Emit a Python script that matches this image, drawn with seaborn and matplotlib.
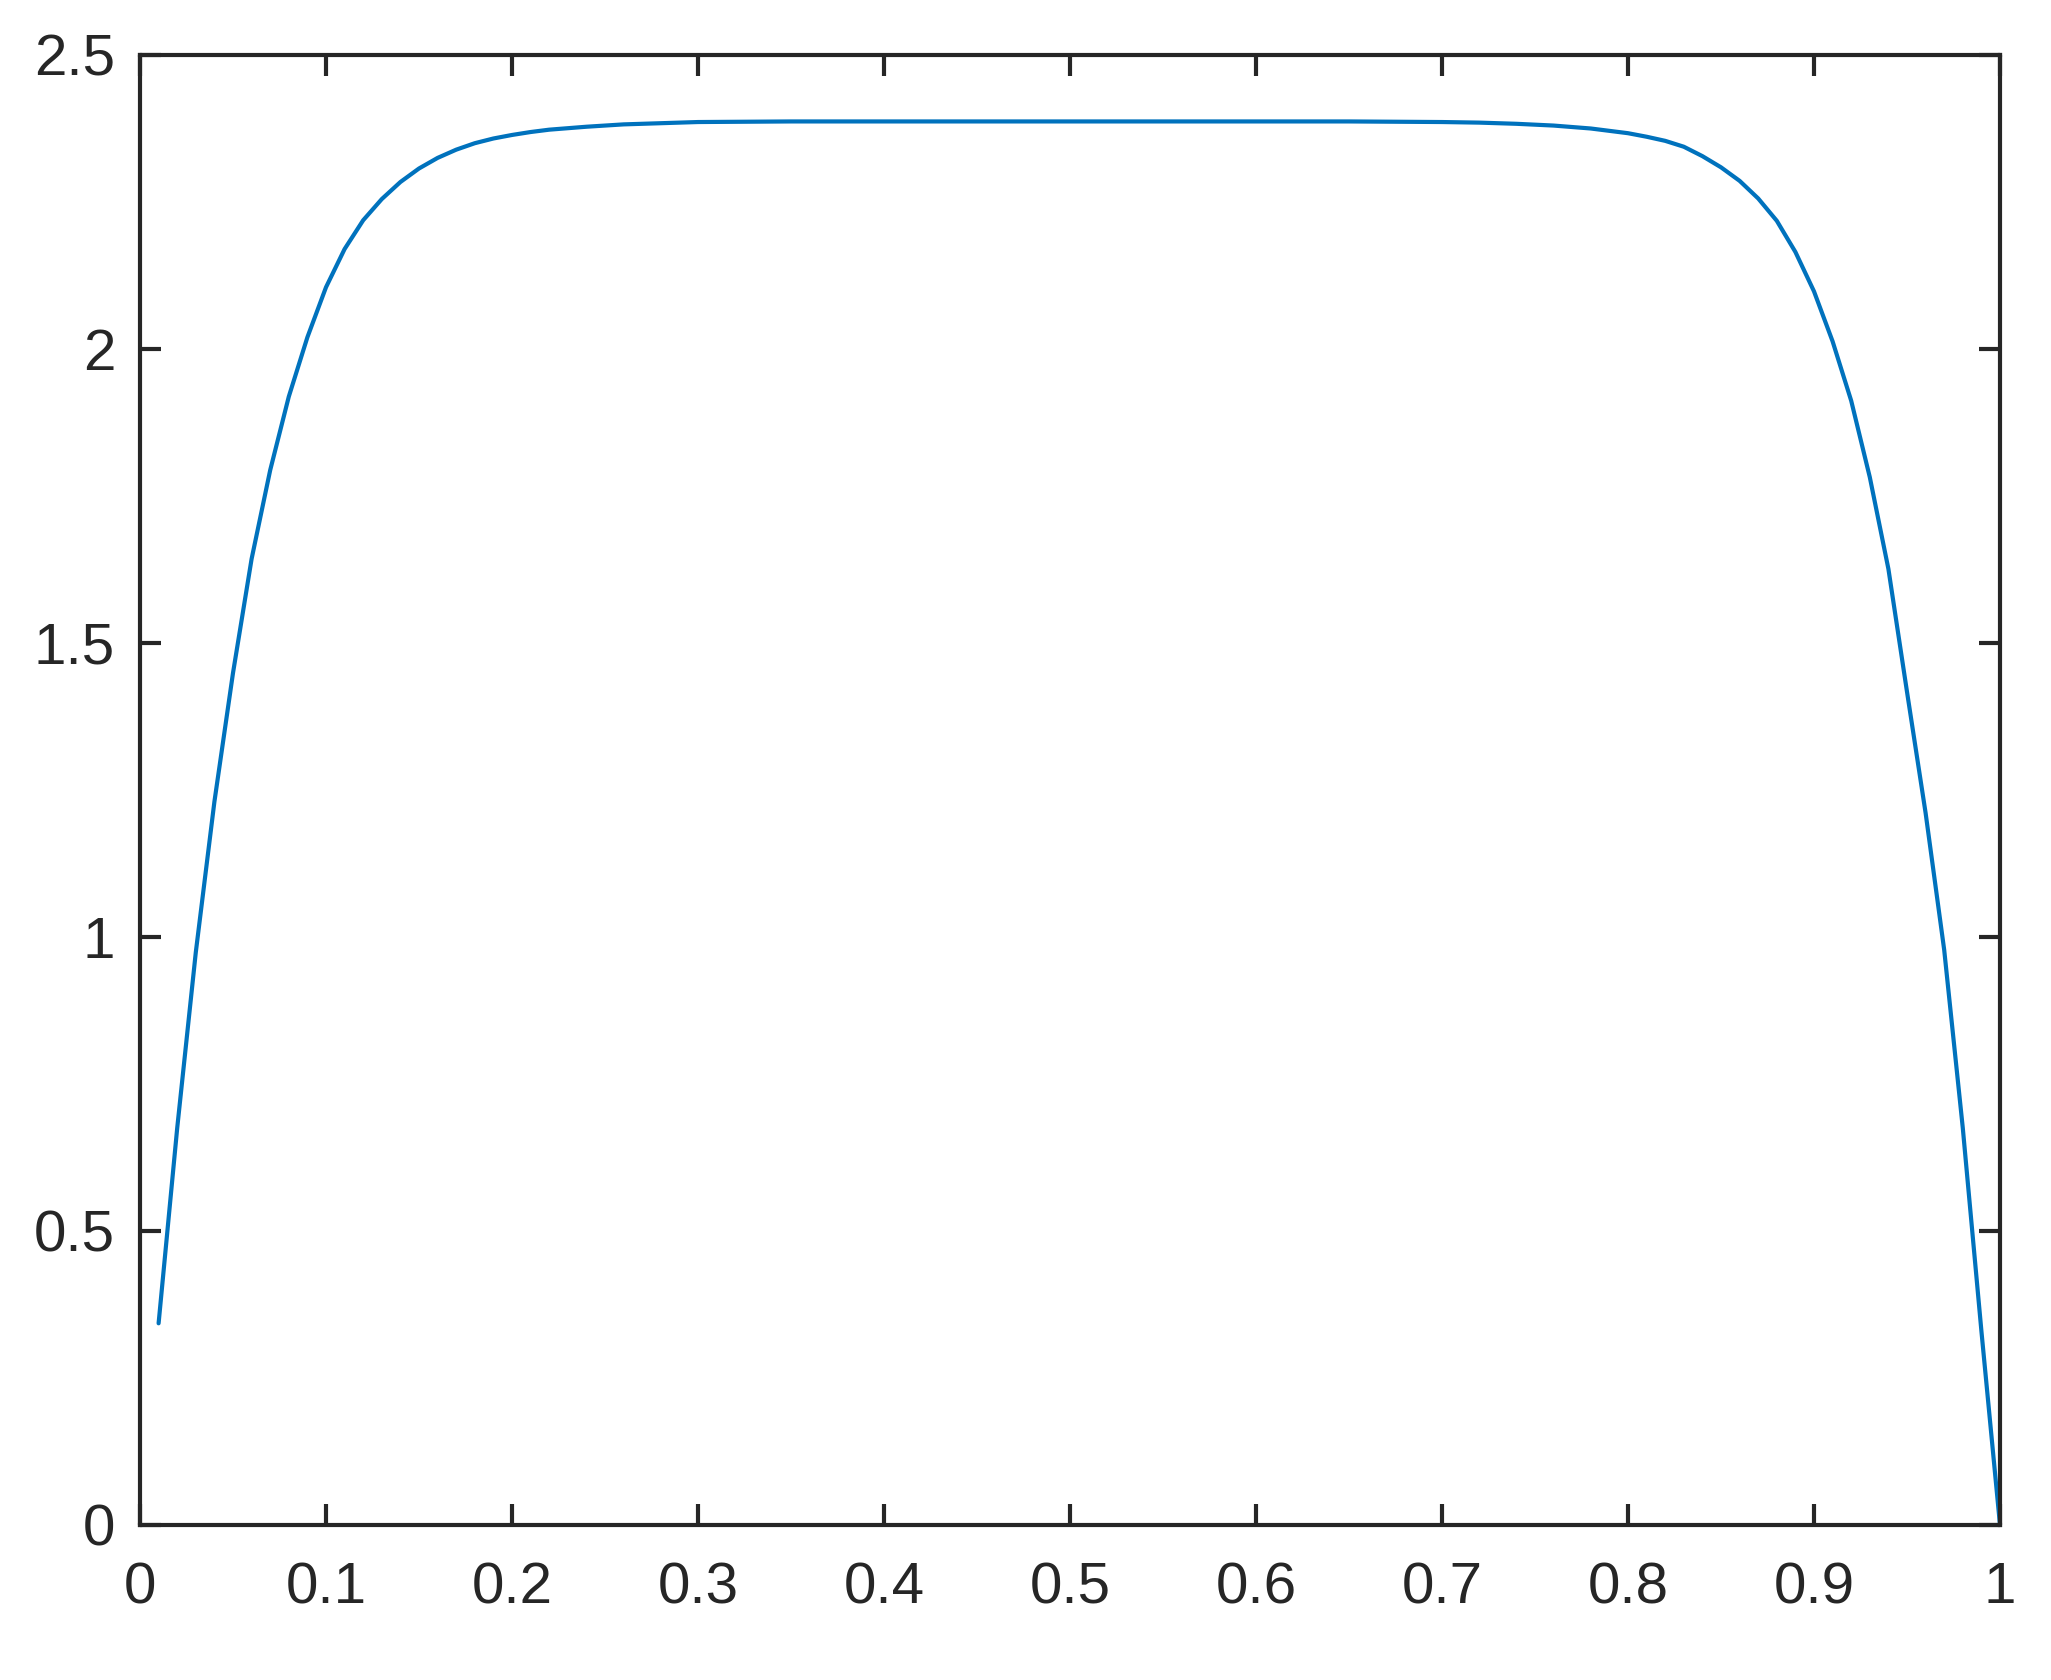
import matplotlib
matplotlib.use('Agg')
import matplotlib.pyplot as plt
import seaborn as sns

# values
x_values = [0.01, 0.02, 0.03, 0.04, 0.05, 0.06, 0.07, 0.08, 0.09, 0.10,
            0.11, 0.12, 0.13, 0.14, 0.15, 0.16, 0.17, 0.18, 0.19, 0.20,
            0.21, 0.22, 0.24, 0.26, 0.28, 0.30, 0.35, 0.40, 0.45, 0.50,
            0.55, 0.60, 0.65, 0.70, 0.72, 0.74, 0.76, 0.78, 0.79, 0.80,
            0.81, 0.82, 0.83, 0.84, 0.85, 0.86, 0.87, 0.88, 0.89, 0.90,
            0.91, 0.92, 0.93, 0.94, 0.95, 0.96, 0.97, 0.98, 0.99, 1.00]
y_values = [0.343, 0.675, 0.974, 1.230, 1.449, 1.643, 1.794, 1.919, 2.020, 2.105,
            2.170, 2.219, 2.255, 2.284, 2.307, 2.325, 2.339, 2.350, 2.358, 2.364,
            2.369, 2.373, 2.378, 2.382, 2.384, 2.386, 2.387, 2.387, 2.387, 2.387,
            2.387, 2.387, 2.387, 2.386, 2.385, 2.383, 2.380, 2.375, 2.371, 2.367,
            2.361, 2.354, 2.344, 2.328, 2.309, 2.286, 2.256, 2.218, 2.165, 2.098,
            2.013, 1.912, 1.782, 1.626, 1.417, 1.211, 0.978, 0.675, 0.330, 0.0]

x_ticks = [0, 0.1, 0.2, 0.3, 0.4, 0.5, 0.6, 0.7, 0.8, 0.9, 1]
x_tick_labels = ['0', '0.1', '0.2', '0.3', '0.4', '0.5', '0.6', '0.7', '0.8', '0.9', '1']
y_ticks = [0, 0.5, 1, 1.5, 2, 2.5]
y_tick_labels = ['0', '0.5', '1', '1.5', '2', '2.5']

sns.set_style('ticks')
plt.rcParams['font.family'] = ['Liberation Sans', 'DejaVu Sans']

dark = '#262626'
fig = plt.figure(figsize=(2051 / 200, 1680 / 200), dpi=200)
ax = fig.add_axes([140 / 2051, 1 - 1525 / 1680, 1860 / 2051, 1470 / 1680])

sns.lineplot(x=x_values, y=y_values, ax=ax, color='#0072BD', linewidth=1.5,
             estimator=None, sort=False)

ax.set_xlim(0, 1)
ax.set_ylim(0, 2.5)
ax.set_xticks(x_ticks)
ax.set_xticklabels(x_tick_labels)
ax.set_yticks(y_ticks)
ax.set_yticklabels(y_tick_labels)

for spine in ax.spines.values():
    spine.set_visible(True)
    spine.set_color(dark)
    spine.set_linewidth(1.5)

ax.tick_params(axis='both', direction='in', length=7.5, width=1.5, color=dark,
               labelcolor=dark, labelsize=21, top=True, right=True)
ax.tick_params(axis='x', pad=13)
ax.tick_params(axis='y', pad=9)

plt.savefig('out.png', dpi=200)
